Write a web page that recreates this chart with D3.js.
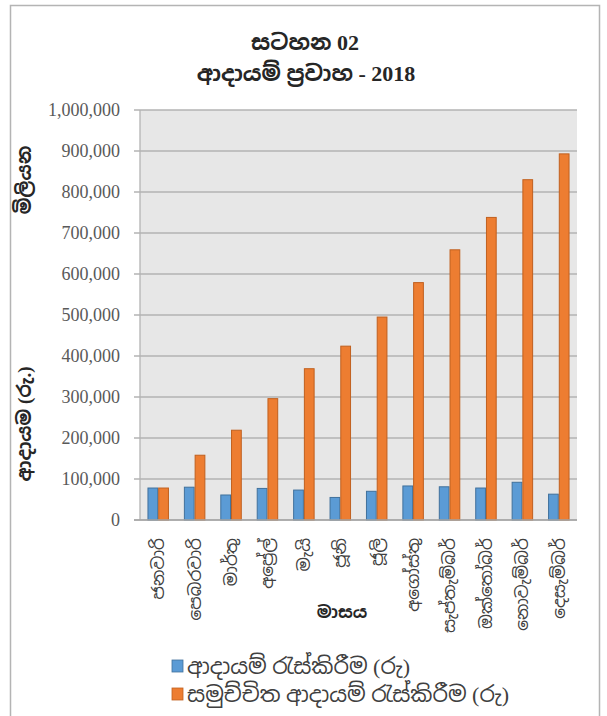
<!DOCTYPE html>
<html><head><meta charset="utf-8">
<script src="https://cdn.jsdelivr.net/npm/d3@7"></script>
<style>
body{margin:0;background:#fff;}
svg{display:block;}
.si{font-family:"Liberation Serif","Noto Sans Sinhala","Iskoola Pota","Noto Serif Sinhala",serif;}
.num{font-family:"Liberation Serif","Times New Roman",serif;}
</style></head>
<body>
<svg id="c" width="607" height="716"></svg>
<script>
const months = ["ජනවාරි","පෙබරවාරි","මාර්තු","අප්‍රේල්","මැයි","ජූනි","ජූලි","අගෝස්තු","සැප්තැම්බර්","ඔක්තෝබර්","නොවැම්බර්","දෙසැම්බර්"];
const monthly = [78000, 80000, 61000, 77000, 73000, 55000, 70000, 83000, 81000, 78000, 92000, 63000];
const cumulative = [78000, 158000, 219000, 296000, 369000, 424000, 495000, 579000, 659000, 738000, 830000, 893000];
const yTicks = [0,100000,200000,300000,400000,500000,600000,700000,800000,900000,1000000];
const seriesNames = ["ආදායම් රැස්කිරීම (රු)","සමුච්චිත ආදායම් රැස්කිරීම (රු)"];
const colors = ["#5b9bd5","#ed7d31"];
const strokes = ["#41719c","#c0601f"];

const svg = d3.select("#c");
svg.append("path").attr("d","M10.5,716 V5.5 H599.5 V716").attr("fill","none").attr("stroke","#b4b4b4").attr("stroke-width",1.5);

const L=140, R=577, T=110, B=520;
const x = d3.scaleBand().domain(months).range([L,R]).paddingInner(0.41).paddingOuter(0.205);
const xs = d3.scaleBand().domain([0,1]).range([0,x.bandwidth()]);
const y = d3.scaleLinear().domain([0,1000000]).range([B,T]);

svg.append("rect").attr("x",L).attr("y",T).attr("width",R-L).attr("height",B-T).attr("fill","#e7e7e7");

svg.append("g").selectAll("line").data(yTicks).join("line")
  .attr("x1",L-6).attr("x2",R).attr("y1",d=>y(d)).attr("y2",d=>y(d))
  .attr("stroke","#b3b3b3").attr("stroke-width",1.3);
svg.append("line").attr("x1",L).attr("x2",L).attr("y1",T).attr("y2",B).attr("stroke","#b3b3b3").attr("stroke-width",1.3);

const fmt = d3.format(",");
svg.append("g").selectAll("text").data(yTicks).join("text")
  .attr("class","num")
  .attr("x",120).attr("y",d=>y(d)).attr("dy","0.35em").attr("text-anchor","end")
  .attr("font-size",18).attr("fill","#595959")
  .text(d=>fmt(d));

const series=[monthly,cumulative];
series.forEach((s,i)=>{
  svg.append("g").selectAll("rect").data(s).join("rect")
    .attr("x",(d,j)=>x(months[j])+xs(i)+0.5).attr("width",xs.bandwidth()-1)
    .attr("y",d=>y(d)).attr("height",d=>B-y(d))
    .attr("fill",colors[i]).attr("stroke",strokes[i]).attr("stroke-width",1);
});
svg.append("line").attr("x1",L-6).attr("x2",R).attr("y1",B).attr("y2",B).attr("stroke","#a6a6a6").attr("stroke-width",1.5);

svg.append("g").selectAll("text").data(months).join("text")
  .attr("class","si")
  .attr("transform",d=>`translate(${x(d)+x.bandwidth()/2},538) rotate(-90)`)
  .attr("text-anchor","end").attr("dy","0.35em")
  .attr("font-size",17).attr("fill","#404040")
  .text(d=>d);

svg.append("text").attr("class","si").attr("x",305).attr("y",50).attr("text-anchor","middle")
  .attr("font-size",22).attr("font-weight","bold").attr("fill","#262626").text("සටහන 02");
svg.append("text").attr("class","si").attr("x",306).attr("y",81).attr("text-anchor","middle")
  .attr("font-size",22).attr("font-weight","bold").attr("fill","#262626").text("ආදායම් ප්‍රවාහ - 2018");

svg.append("text").attr("class","si").attr("transform","translate(24,424) rotate(-90)").attr("text-anchor","middle")
  .attr("dy","0.35em").attr("font-size",19).attr("font-weight","bold").attr("fill","#262626").text("ආදායම (රු.)");
svg.append("text").attr("class","si").attr("transform","translate(24,180) rotate(-90)").attr("text-anchor","middle")
  .attr("dy","0.35em").attr("font-size",19).attr("font-weight","bold").attr("fill","#262626").text("මිලියන");
svg.append("text").attr("class","si").attr("x",342).attr("y",618).attr("text-anchor","middle")
  .attr("font-size",17).attr("font-weight","bold").attr("fill","#262626").text("මාසය");

const lg = svg.append("g");
seriesNames.forEach((n,i)=>{
  const yy = 666 + i*28;
  lg.append("rect").attr("x",172).attr("y",yy-6).attr("width",11).attr("height",12)
    .attr("fill",colors[i]).attr("stroke",strokes[i]).attr("stroke-width",0.8);
  lg.append("text").attr("class","si").attr("x",187).attr("y",yy).attr("dy","0.35em")
    .attr("font-size",22).attr("fill","#404040").text(n);
});
</script>
</body></html>
